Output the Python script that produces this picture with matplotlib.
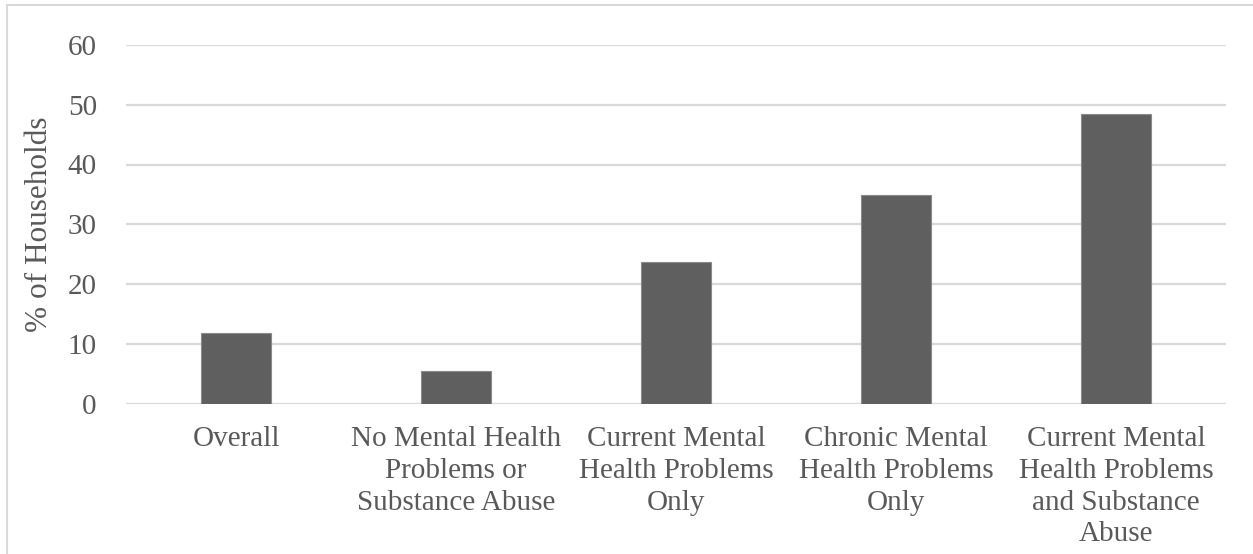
import matplotlib
matplotlib.use("Agg")
import matplotlib.pyplot as plt
from matplotlib.patches import Rectangle

categories = [
    "Overall",
    "No Mental Health\nProblems or\nSubstance Abuse",
    "Current Mental\nHealth Problems\nOnly",
    "Chronic Mental\nHealth Problems\nOnly",
    "Current Mental\nHealth Problems\nand Substance\nAbuse",
]
values = [11.8, 5.45, 23.6, 34.9, 48.5]
yticks = [0, 10, 20, 30, 40, 50, 60]
ylabel = "% of Households"

plt.rcParams['font.family'] = ['Liberation Serif', 'DejaVu Serif']
W, H = 1253, 554
fig = plt.figure(figsize=(W / 100, H / 100), dpi=100)
ax = fig.add_axes([126 / W, (H - 403.5) / H, 1100 / W, (403.5 - 45) / H])

text_color = "#595959"
x = list(range(len(categories)))
ax.bar(x, values, width=0.314, color="#5f5f5f", edgecolor="#8a8a8a", linewidth=0.8, zorder=3)
ax.set_xlim(-0.5, len(categories) - 0.5)
ax.set_ylim(0, 60)
ax.set_yticks(yticks)
ax.set_yticklabels([str(t) for t in yticks])
ax.set_xticks(x)
ax.set_xticklabels(categories, linespacing=1.28)
ax.yaxis.grid(True, color="#d9d9d9", linewidth=1.6, zorder=0)
ax.set_axisbelow(True)
for s in ax.spines.values():
    s.set_visible(False)
ax.tick_params(axis='both', length=0, labelsize=21, colors=text_color)
ax.tick_params(axis='y', pad=21)
ax.tick_params(axis='x', pad=16.5)
fig.text(40 / W, (H - 224) / H, ylabel, rotation=90, ha='center', va='center',
         fontsize=22.5, color=text_color)

fig.patches.append(Rectangle((7 / W, -0.1), 1.2, (H - 5) / H + 0.1, transform=fig.transFigure,
                             fill=False, edgecolor="#d9d9d9", linewidth=1.5))

fig.savefig("out.png", dpi=100)
